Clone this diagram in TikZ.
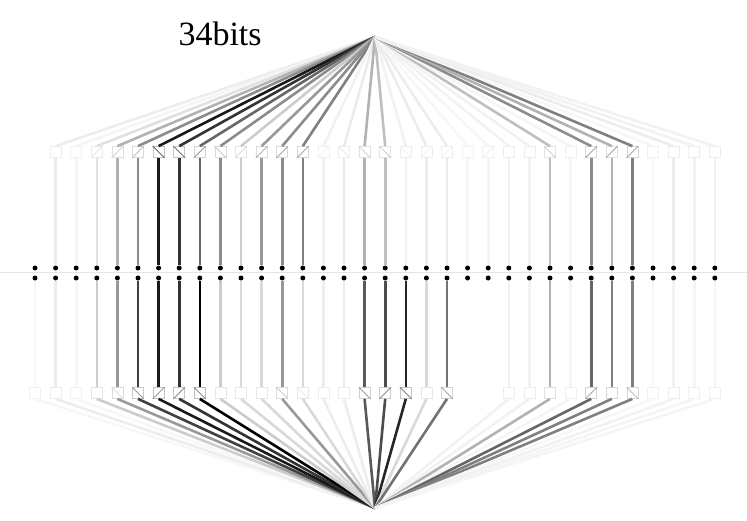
\documentclass[tikz,border=0pt]{standalone}
\usepackage{fontspec}
\setmainfont{Liberation Serif}
\tikzset{
  wire/.style={line width=2.6pt},
  gatebox/.style={draw, minimum size=11pt, inner sep=0pt, line width=0.8pt},
  gateline/.style={line width=0.8pt},
  bitdot/.style={circle, fill=black, minimum size=5pt, inner sep=0pt},
}
\begin{document}
\begin{tikzpicture}[x=1pt,y=-1pt]
  \useasboundingbox (0,0) rectangle (747,520);
  \draw[color=black!10, line width=1.6pt] (0,272.5) -- (747,272.5);
  \coordinate (top) at (375,37);
  \coordinate (bot) at (375,508);
  \node[anchor=base west, font=\fontsize{34}{40}\selectfont] (title) at (175,45) {34bits};
  % top weight / gate type / gate shade, bottom weight / gate type / gate shade
  \foreach \t/\dt/\ct/\b/\db/\cb [count=\i from 0] in {
      0/0/0/3/0/0, 7/0/0/7/0/0, 4/0/0/3/0/0, 12/1/10/20/0/0,
      30/1/20/40/2/15, 45/1/25/75/2/40, 90/2/70/90/1/45, 80/2/55/80/1/45,
      60/1/40/100/2/45, 45/2/25/20/0/0, 20/1/15/15/0/0, 40/1/35/15/0/0,
      45/1/35/40/2/20, 50/1/35/15/2/8, 5/1/5/7/0/0, 8/2/8/7/0/0,
      30/2/20/65/2/45, 25/2/20/70/1/45, 5/2/5/85/2/50, 7/1/5/15/0/0,
      7/1/5/55/2/35, 3/0/0/0/0/0, 4/1/5/0/0/0, 5/0/0/5/0/0,
      5/0/0/5/0/0, 25/2/20/30/0/0, 4/0/0/4/0/0, 45/1/35/60/1/35,
      30/1/35/50/0/0, 50/1/40/50/2/30, 3/0/0/3/0/0, 7/0/0/5/0/0,
      5/0/0/4/0/0, 5/0/0/4/0/0}
  {
    \pgfmathsetmacro\x{35+20.6*\i}
    \node[bitdot] (td\i) at (\x,268) {};
    \node[bitdot] (bd\i) at (\x,278) {};
    \ifnum\t>0
      \pgfmathtruncatemacro\o{6+\t/5}
      \node[gatebox, draw=black!\o] (tb\i) at (\x,152) {};
      \draw[wire, color=black!\t] (top) -- (tb\i.north);
      \draw[wire, color=black!\t] (tb\i.south) -- (td\i);
      \ifcase\dt\or
        \draw[gateline, color=black!\ct] (tb\i.south west) -- (tb\i.north east);
      \or
        \draw[gateline, color=black!\ct] (tb\i.north west) -- (tb\i.south east);
      \fi
    \fi
    \ifnum\b>0
      \pgfmathtruncatemacro\o{6+\b/5}
      \node[gatebox, draw=black!\o] (bb\i) at (\x,393) {};
      \draw[wire, color=black!\b] (bd\i) -- (bb\i.north);
      \draw[wire, color=black!\b] (bb\i.south) -- (bot);
      \ifcase\db\or
        \draw[gateline, color=black!\cb] (bb\i.south west) -- (bb\i.north east);
      \or
        \draw[gateline, color=black!\cb] (bb\i.north west) -- (bb\i.south east);
      \fi
    \fi
  }
\end{tikzpicture}
\end{document}
